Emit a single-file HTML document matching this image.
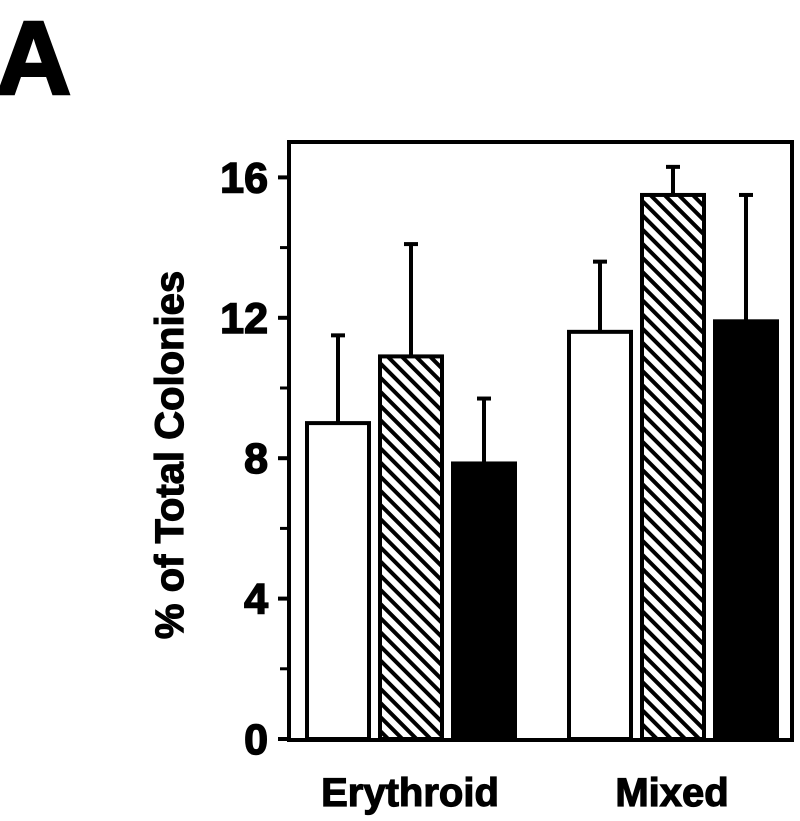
<!DOCTYPE html>
<html><head><meta charset="utf-8"><style>
body{margin:0;background:#fff;}
svg{display:block;font-family:"Liberation Sans",Arial,sans-serif;font-weight:bold;}
</style></head><body>
<svg id="chart" width="800" height="821" viewBox="0 0 800 821" xmlns="http://www.w3.org/2000/svg">
<defs>
<pattern id="hatch" patternUnits="userSpaceOnUse" width="10" height="10" patternTransform="rotate(-45)">
<rect width="10" height="10" fill="#fff"/><rect x="0" y="0" width="4" height="10" fill="#000"/>
</pattern>
</defs>
<text x="-4" y="94" font-size="104" fill="#000" stroke="#000" stroke-width="3">A</text>
<text transform="translate(183,455) rotate(-90)" text-anchor="middle" font-size="40" fill="#000" stroke="#000" stroke-width="1.2">% of Total Colonies</text>
<g id="marks"></g>
<rect x="289" y="142" width="503" height="598" fill="none" stroke="#000" stroke-width="4"/>
<g id="axis"></g>
</svg>
<script>
const categories = ["Erythroid", "Mixed"];
const seriesWhite = [9.0, 11.6];
const seriesHatched = [10.9, 15.5];
const seriesBlack = [7.85, 11.9];
const errWhite = [11.5, 13.6];
const errHatched = [14.1, 16.3];
const errBlack = [9.7, 15.5];
const tickValues = [0, 4, 8, 12, 16];
const minorTicks = [2, 6, 10, 14];

const NS = "http://www.w3.org/2000/svg";
const y = v => 739 - v * 35.1;
const groupX = i => 307 + i * 262;
const barW = 62, barStep = 73;
const marks = document.getElementById('marks');
const axis = document.getElementById('axis');
function mk(tag, attrs, parent){const e=document.createElementNS(NS,tag);for(const k in attrs)e.setAttribute(k,attrs[k]);parent.appendChild(e);return e;}
const series = [
  {vals: seriesWhite, err: errWhite, fill: "#fff", name: "white"},
  {vals: seriesHatched, err: errHatched, fill: "url(#hatch)", name: "hatched"},
  {vals: seriesBlack, err: errBlack, fill: "#000", name: "black"}
];
categories.forEach((c, i) => {
  series.forEach((s, j) => {
    const x0 = groupX(i) + j * barStep;
    const cx = x0 + barW / 2;
    const el = mk('line', {x1: cx, x2: cx, y1: y(s.vals[i]), y2: y(s.err[i]), stroke: "#000", "stroke-width": 4}, marks);
    
    
    const cap = mk('line', {x1: cx - 7, x2: cx + 7, y1: y(s.err[i]), y2: y(s.err[i]), stroke: "#000", "stroke-width": 4}, marks);
    
    
    const r = mk('rect', {x: x0, y: y(s.vals[i]), width: barW, height: y(0) - y(s.vals[i]), fill: s.fill, stroke: "#000", "stroke-width": 4}, marks);
    
    
  });
  const t = mk('text', {x: groupX(i) + 103, y: 806, "text-anchor": "middle", "font-size": 40, fill: "#000", stroke: "#000", "stroke-width": 1.2}, axis);
  t.textContent = c;
  
  
});
tickValues.forEach(v => {
  const l = mk('line', {x1: 278, x2: 289, y1: y(v), y2: y(v), stroke: "#000", "stroke-width": 4}, axis);
  
  
  const t = mk('text', {x: 268, y: y(v) + 15, "text-anchor": "end", "font-size": 43, fill: "#000", stroke: "#000", "stroke-width": 1.5}, axis);
  t.textContent = v;
  
  
});
minorTicks.forEach(v => {
  const l = mk('line', {x1: 280, x2: 289, y1: y(v), y2: y(v), stroke: "#000", "stroke-width": 3}, axis);
  
  
});
</script>
</body></html>
